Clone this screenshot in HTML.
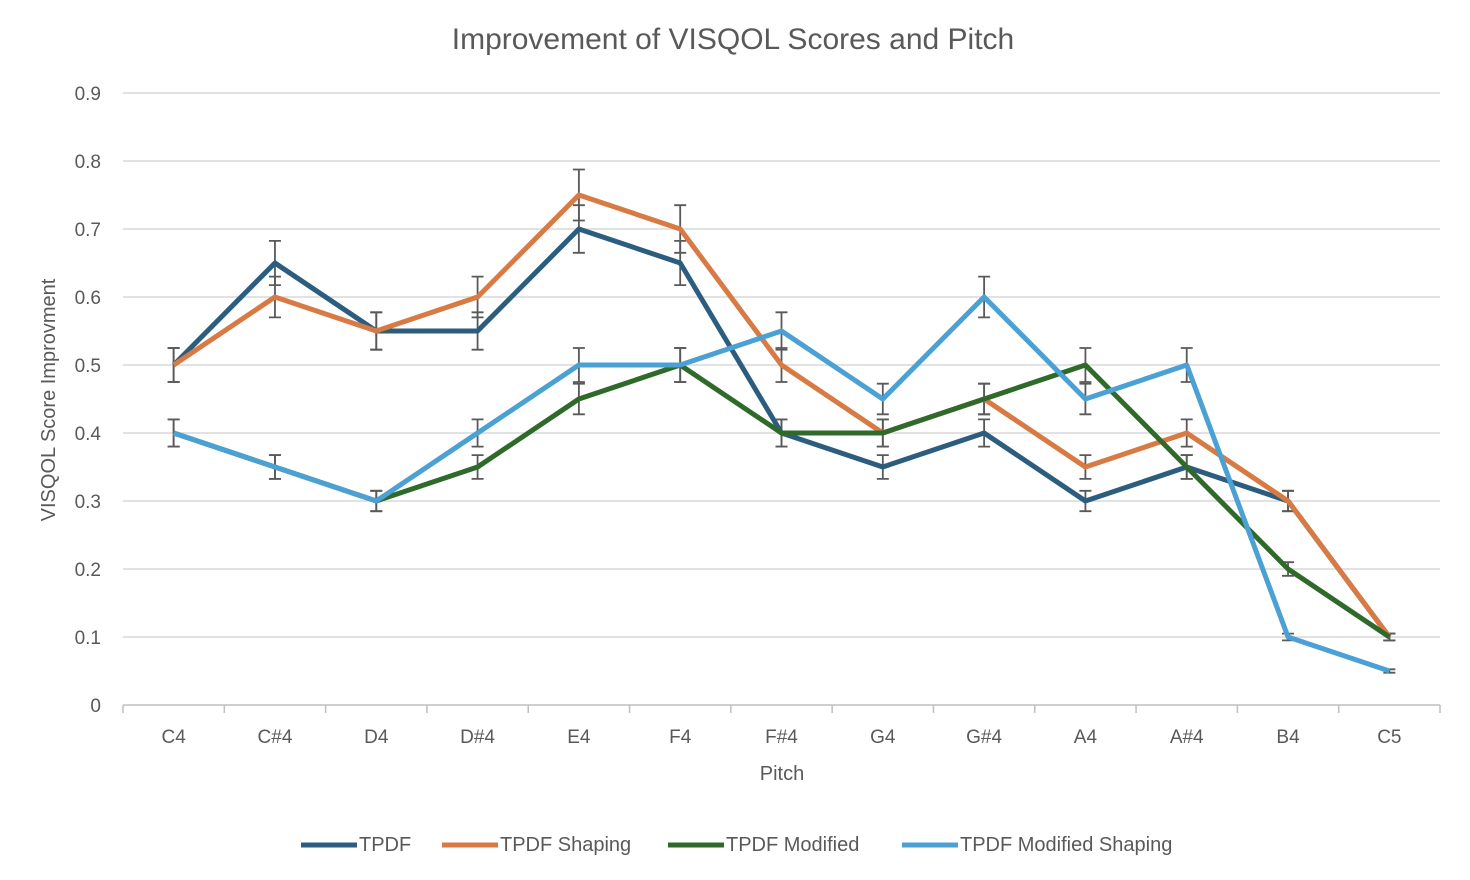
<!DOCTYPE html>
<html><head><meta charset="utf-8"><style>
html,body{margin:0;padding:0;background:#fff;}
svg{display:block;font-family:"Liberation Sans",sans-serif;}
</style></head><body>
<svg id="chart" width="1470" height="880">
<text x="733" y="49" text-anchor="middle" font-size="30" fill="#595959">Improvement of VISQOL Scores and Pitch</text>
<g id="grid"></g><g id="errs"></g><g id="lines"></g>
<text transform="translate(55,400) rotate(-90)" text-anchor="middle" font-size="20" fill="#595959">VISQOL Score Improvment</text>
<text x="782" y="780" text-anchor="middle" font-size="20" fill="#595959">Pitch</text>
<g id="legend"></g>
</svg>
<script>
const categories=["C4","C#4","D4","D#4","E4","F4","F#4","G4","G#4","A4","A#4","B4","C5"];
const tpdf=[.5,.65,.55,.55,.7,.65,.4,.35,.4,.3,.35,.3,.1];
const tpdfShaping=[.5,.6,.55,.6,.75,.7,.5,.4,.45,.35,.4,.3,.1];
const tpdfModified=[.4,.35,.3,.35,.45,.5,.4,.4,.45,.5,.35,.2,.1];
const tpdfModShaping=[.4,.35,.3,.4,.5,.5,.55,.45,.6,.45,.5,.1,.05];
const yTicks=[0,0.1,0.2,0.3,0.4,0.5,0.6,0.7,0.8,0.9];
const seriesNames=["TPDF","TPDF Shaping","TPDF Modified","TPDF Modified Shaping"];
const NS="http://www.w3.org/2000/svg";
const x0=123,x1=1440,y0=705,yTop=93;
const step=(x1-x0)/categories.length;
const X=i=>x0+step*(i+0.5);
const Y=v=>y0-(v/0.9)*(y0-yTop);
function mk(t,a,p){const e=document.createElementNS(NS,t);for(const k in a)e.setAttribute(k,a[k]);p.appendChild(e);return e;}
const grid=document.getElementById('grid');
yTicks.forEach(v=>{
 const l=mk('line',{x1:x0,x2:x1,y1:Y(v),y2:Y(v),stroke:v===0?'#bfbfbf':'#d9d9d9','stroke-width':1.5},grid);
 
 
 const t=mk('text',{x:101,y:Y(v)+7,'text-anchor':'end','font-size':19,fill:'#595959'},grid);
 t.textContent=v===0?'0':v.toFixed(1);
 
 
});
for(let i=0;i<=categories.length;i++){mk('line',{x1:x0+step*i,x2:x0+step*i,y1:y0,y2:y0+8,stroke:'#bfbfbf','stroke-width':1.5},grid);}
categories.forEach((c,i)=>{
 const t=mk('text',{x:X(i),y:743,'text-anchor':'middle','font-size':19,fill:'#595959'},grid);
 t.textContent=c;
 
 
});
const data=[tpdf,tpdfShaping,tpdfModified,tpdfModShaping];
const colors=["#2c5d7f","#d87a43","#2f6a2b","#4ba0d4"];
const errs=document.getElementById('errs'),lines=document.getElementById('lines');
data.forEach(s=>s.forEach((v,i)=>{
 const e=v*0.05,x=X(i);
 mk('path',{d:`M${x},${Y(v+e)}V${Y(v-e)}M${x-6},${Y(v+e)}H${x+6}M${x-6},${Y(v-e)}H${x+6}`,stroke:'#595959','stroke-width':1.8,fill:'none'},errs);
}));
data.forEach((s,k)=>{
 const p=mk('polyline',{points:s.map((v,i)=>X(i)+','+Y(v)).join(' '),fill:'none',stroke:colors[k],'stroke-width':5,'stroke-linejoin':'round'},lines);
 
 
});
const leg=document.getElementById('legend');
const lx=[301,442,668,902];
seriesNames.forEach((n,k)=>{
 const g=mk('g',{},leg);
 
 
 mk('line',{x1:lx[k],x2:lx[k]+56,y1:845,y2:845,stroke:colors[k],'stroke-width':5},g);
 const t=mk('text',{x:lx[k]+58,y:851,'font-size':20,fill:'#595959'},g);
 t.textContent=n;
});
</script>
</body></html>
